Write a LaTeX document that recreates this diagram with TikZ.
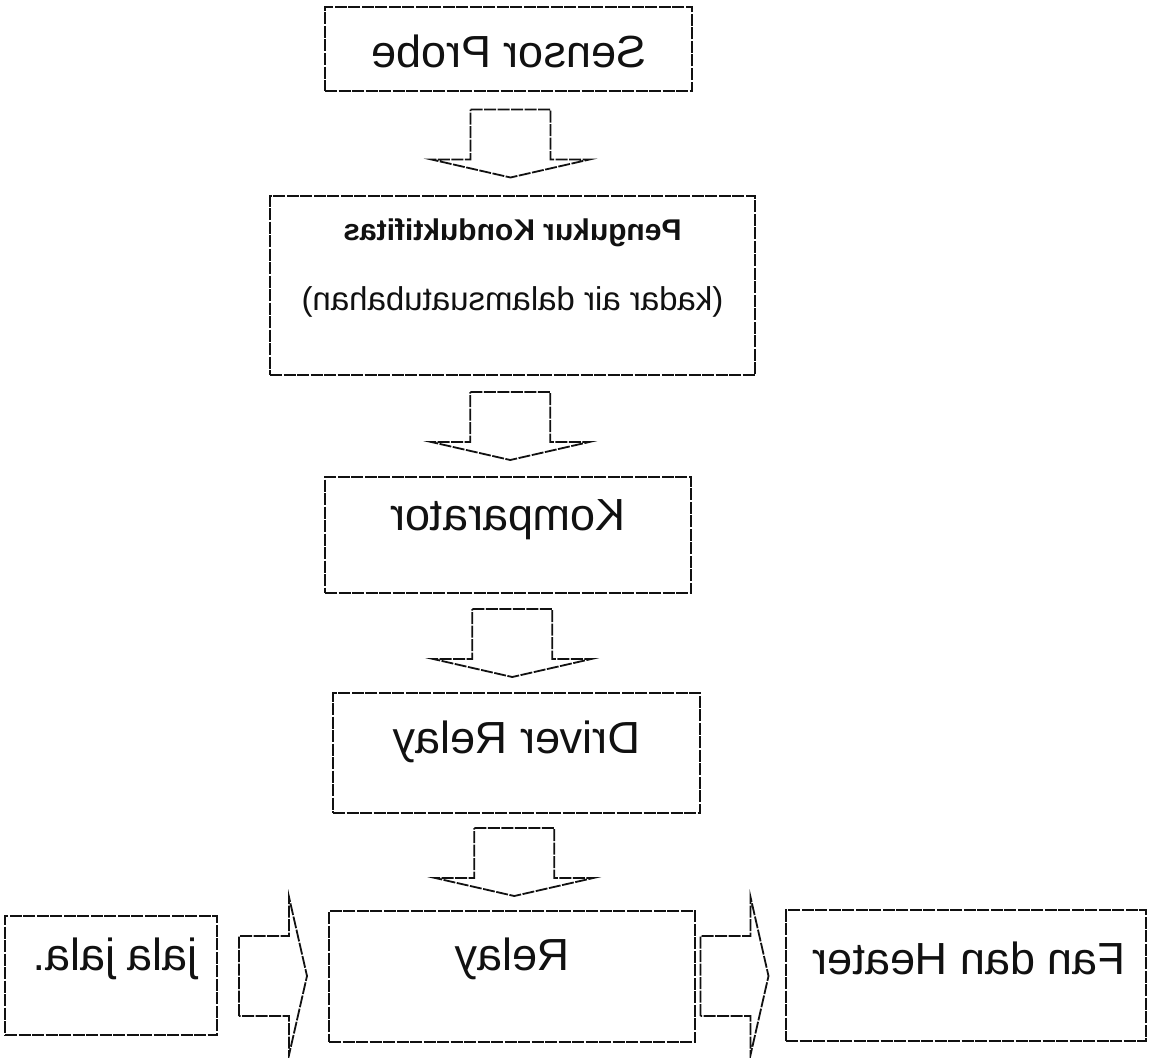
\documentclass[tikz,border=0pt]{standalone}
\usepackage{fontspec}
\setmainfont{Liberation Sans}
\usepackage{graphicx}
\usetikzlibrary{calc}
\definecolor{tinta}{HTML}{111111}
\newcommand{\cermin}[1]{\reflectbox{#1}}
\tikzset{
  garis/.style    ={draw=tinta, line width=1.8pt, dash pattern=on 12pt off 1.5pt, line join=miter},
  kotak/.style    ={garis, fill=white, inner sep=0pt},
  teks/.style     ={font=\fontsize{45}{54}\selectfont, text=tinta, inner sep=0pt},
  tekskecil/.style={font=\fontsize{33}{70}\selectfont, text=tinta, align=center, inner sep=0pt},
  panahblok/.pic  ={\draw[garis] (-40,-34) -- (40,-34) -- (40,16) -- (79,16) -- (0,34)
                                 -- (-79,16) -- (-40,16) -- cycle;},
}
\begin{document}
\begin{tikzpicture}[x=1pt, y=-1pt]
  \useasboundingbox (0,0) rectangle (1150,1057);
  % kotak
  \node[kotak, minimum width=367pt, minimum height=84pt]  (probe)  at (508.5,49)    {};
  \node[kotak, minimum width=485pt, minimum height=179pt] (ukur)   at (512.5,285.5) {};
  \node[kotak, minimum width=366pt, minimum height=116pt] (komp)   at (508,535)     {};
  \node[kotak, minimum width=367pt, minimum height=120pt] (driver) at (516.5,753)   {};
  \node[kotak, minimum width=366pt, minimum height=131pt] (relay)  at (512,976.5)   {};
  \node[kotak, minimum width=212pt, minimum height=119pt] (jala)   at (111,975.5)   {};
  \node[kotak, minimum width=360pt, minimum height=131pt] (fan)    at (966,975.5)   {};

  % teks (tercermin)
  \node[teks] (probe-t) at ([yshift=-2pt]probe.center) {\cermin{Sensor Probe}};
  \node[tekskecil] (ukur-t) at ([yshift=17pt]ukur.center)
    {\cermin{\bfseries\fontsize{30}{36}\selectfont Pengukur Konduktifitas}\\
     \cermin{(kadar air dalamsuatubahan)}};
  \node[teks] (komp-t)   at ([yshift=15pt]komp.center)   {\cermin{Komparator}};
  \node[teks] (driver-t) at ([yshift=11pt]driver.center) {\cermin{Driver Relay}};
  \node[teks] (relay-t)  at ([yshift=18pt]relay.center)  {\cermin{Relay}};
  \node[teks] (jala-t)   at ([xshift=4pt,yshift=17pt]jala.center) {\cermin{jala jala.}};
  \node[teks] (fan-t)    at ([xshift=3pt,yshift=17pt]fan.center)  {\cermin{Fan dan Heater}};

  % panah blok
  \pic at ($(probe.south)!0.5!(ukur.north)$)  {panahblok};
  \pic at ($(ukur.south)!0.5!(komp.north)$)   {panahblok};
  \pic at ($(komp.south)!0.5!(driver.north)$) {panahblok};
  \pic at ($(driver.south)!0.5!(relay.north)$) {panahblok};
  \pic[rotate=90] at ($(jala.east)!0.5!(relay.west)$) {panahblok};
  \pic[rotate=90] at ([xshift=-6pt]$(relay.east)!0.5!(fan.west)$) {panahblok};
\end{tikzpicture}
\end{document}
